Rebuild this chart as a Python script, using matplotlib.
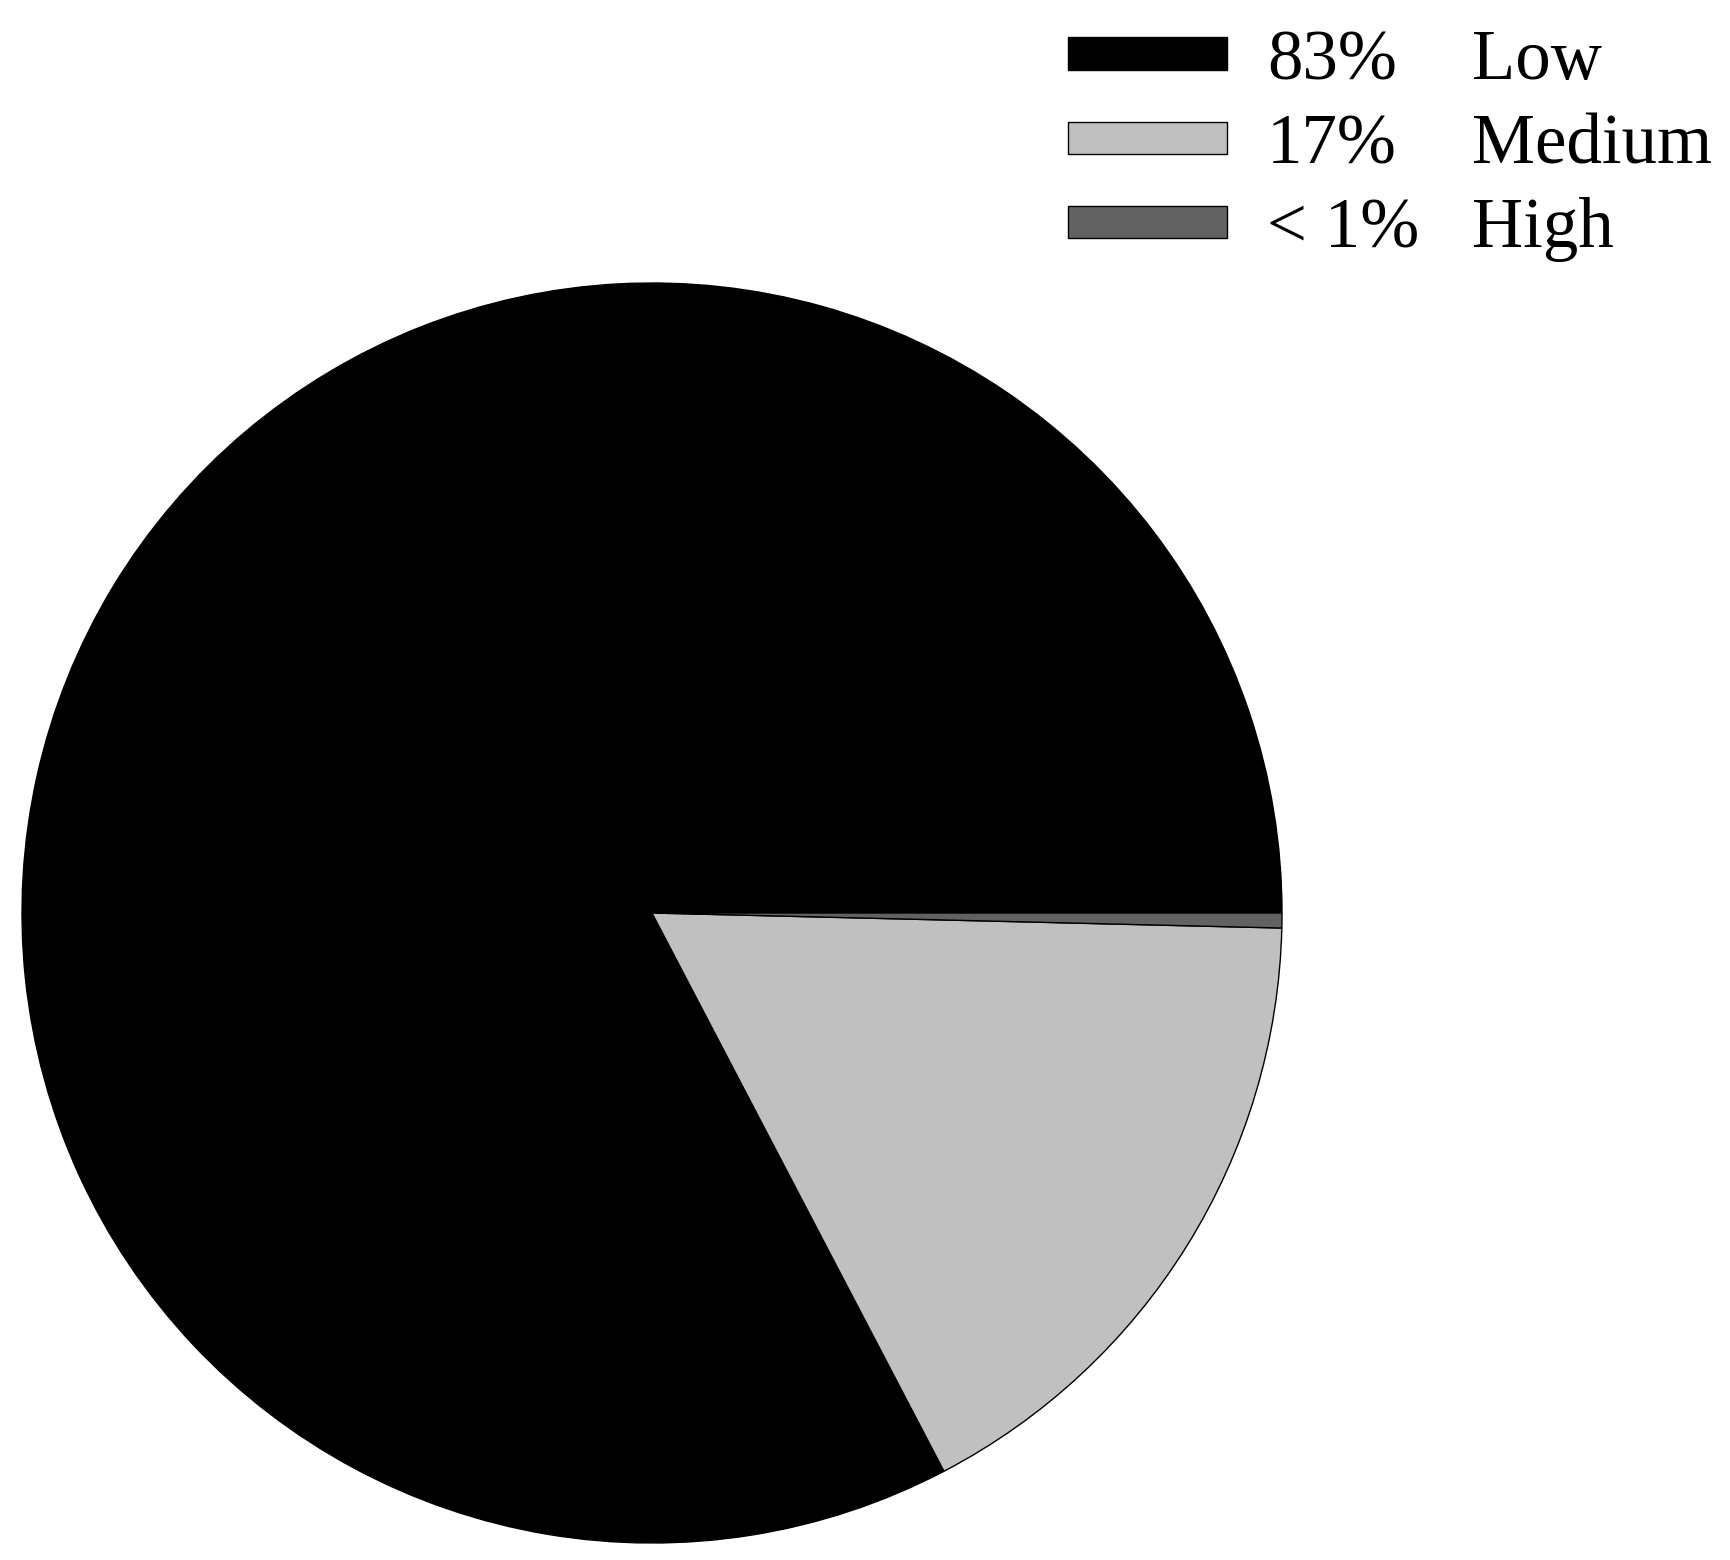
import matplotlib
matplotlib.use("Agg")
import matplotlib.pyplot as plt

# Risk level shares (percent of area)
categories = ["Low", "Medium", "High"]
shares     = [82.67, 16.95, 0.38]
pct_labels = ["83%", "17%", "< 1%"]
colors     = ["#000000", "#c0c0c0", "#626262"]

plt.rcParams["font.family"] = ["Liberation Serif", "DejaVu Serif"]

W, H = 1730, 1560
fig = plt.figure(figsize=(W / 100, H / 100), dpi=100)
fig.patch.set_facecolor("white")

# pie centre ~ (652, 913) px from top-left, radius ~630 px
cx, cy, r = 652, 913, 630
ax = fig.add_axes([(cx - r) / W, (H - cy - r) / H, 2 * r / W, 2 * r / H])

wedges, _ = ax.pie(shares, colors=colors, startangle=0, counterclock=True,
                   wedgeprops=dict(edgecolor="black", linewidth=1.0))
ax.set_xlim(-1, 1)
ax.set_ylim(-1, 1)
ax.set_aspect("equal")
ax.axis("off")

fs = 51
leg = fig.legend(wedges, pct_labels, loc="upper left",
                 bbox_to_anchor=(1068 / W, 1 - 29 / H),
                 frameon=False, fontsize=fs, borderpad=0, borderaxespad=0,
                 handlelength=2.24, handleheight=0.32, handletextpad=0.57,
                 labelspacing=0.27)

# second column: category names aligned at a fixed x
fig.canvas.draw()
renderer = fig.canvas.get_renderer()
name_x = 1472 / W
for txt, name in zip(leg.get_texts(), categories):
    bb = txt.get_window_extent(renderer)
    yc = (bb.y0 + bb.y1) / 2 / H
    fig.text(name_x, yc, name, fontsize=fs, va="center", ha="left")

fig.savefig("out.png", dpi=100, facecolor="white")
